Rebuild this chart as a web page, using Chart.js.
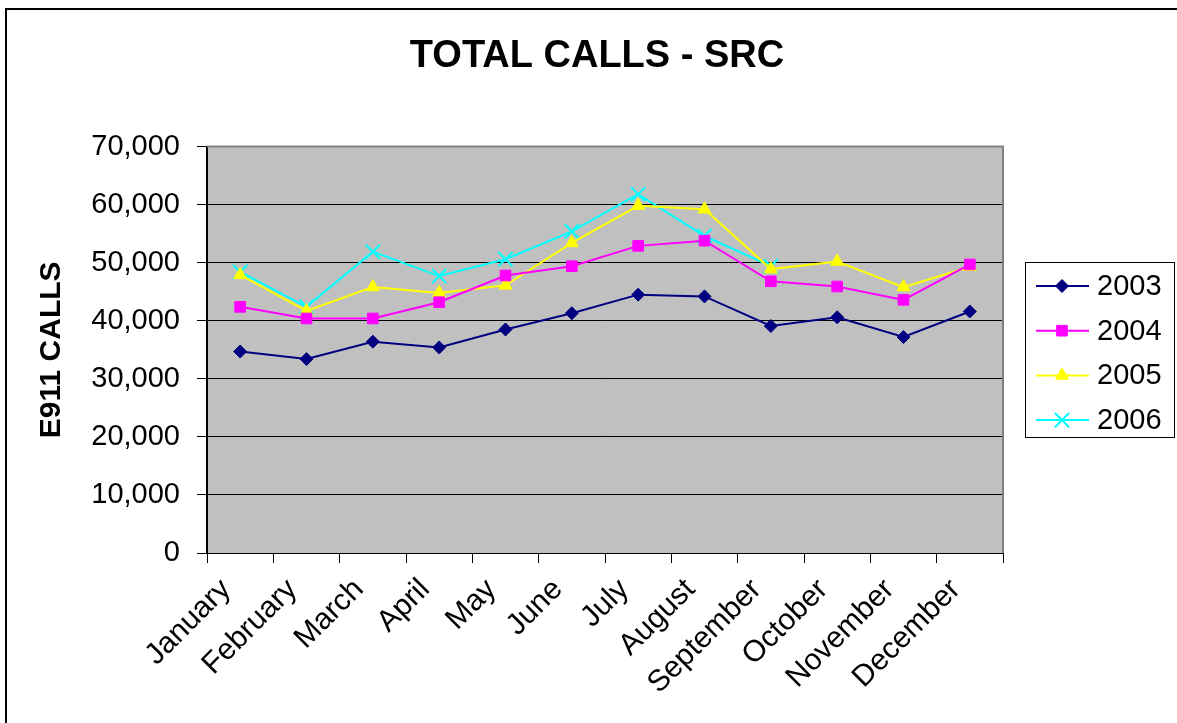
<!DOCTYPE html>
<html>
<head>
<meta charset="utf-8">
<title>TOTAL CALLS - SRC</title>
<script src="https://cdn.jsdelivr.net/npm/chart.js@4/dist/chart.umd.min.js"></script>
<style>
	html, body { margin: 0; padding: 0; background: #fff; }
	#wrap { width: 1177px; height: 723px; }
</style>
</head>
<body>
<div id="wrap"><canvas id="calls-chart" width="1177" height="723"></canvas></div>
<script>
	var months = [ 'January', 'February', 'March', 'April', 'May', 'June', 'July', 'August', 'September', 'October', 'November', 'December' ];
	var calls2003 = [ 34700, 33400, 36400, 35400, 38500, 41300, 44500, 44200, 39100, 40600, 37200, 41600 ];
	var calls2004 = [ 42400, 40400, 40400, 43200, 47800, 49400, 52900, 53800, 46800, 45900, 43600, 49700 ];
	var calls2005 = [ 47900, 41700, 45800, 44800, 46100, 53400, 59800, 59200, 48900, 50200, 45800, 49300 ];
	var calls2006 = [ 48400, 42400, 51900, 47700, 50600, 55400, 61800, 54600, 49400, null, null, null ];
	var yTicks = [ 0, 10000, 20000, 30000, 40000, 50000, 60000, 70000 ];

( function() {
	'use strict';

	var FONT = '"Liberation Sans", Arial, sans-serif';

	/**
	 * Gray plot background, outer frame and boxed legend.
	 */
	var plotDecor = {
		id: 'plotDecor',

		beforeDraw: function( chart ) {
			var ctx = chart.ctx;
			var area = chart.chartArea;
			ctx.save();
			ctx.fillStyle = '#c0c0c0';
			ctx.fillRect( area.left, area.top, area.right - area.left, area.bottom - area.top );

			// outer frame, only top and left edges fall inside the picture
			ctx.strokeStyle = '#000';
			ctx.lineWidth = 2;
			ctx.beginPath();
			ctx.moveTo( 6, 740 );
			ctx.lineTo( 6, 9 );
			ctx.lineTo( 1200, 9 );
			ctx.stroke();
			ctx.restore();
		},

		beforeDatasetsDraw: function( chart ) {
			var ctx = chart.ctx;
			var area = chart.chartArea;
			ctx.save();
			ctx.strokeStyle = '#808080';
			ctx.lineWidth = 2;
			ctx.beginPath();
			ctx.moveTo( area.left, area.top );
			ctx.lineTo( area.right, area.top );
			ctx.lineTo( area.right, area.bottom );
			ctx.stroke();
			ctx.restore();
		},

		afterDraw: function( chart ) {
			var ctx = chart.ctx;
			var box = { left: 1025.5, top: 262.5, width: 149, height: 175 };
			ctx.save();
			ctx.fillStyle = '#fff';
			ctx.fillRect( box.left, box.top, box.width, box.height );
			ctx.strokeStyle = '#000';
			ctx.lineWidth = 1;
			ctx.strokeRect( box.left, box.top, box.width, box.height );

			chart.data.datasets.forEach( function( ds, i ) {
				var y = 286 + i * 44.7;
				ctx.strokeStyle = ds.borderColor;
				ctx.lineWidth = 2;
				ctx.beginPath();
				ctx.moveTo( 1036, y );
				ctx.lineTo( 1089, y );
				ctx.stroke();

				ctx.fillStyle = ds.pointBackgroundColor;
				ctx.strokeStyle = ds.pointBorderColor;
				ctx.lineWidth = ds.pointBorderWidth;
				Chart.helpers.drawPoint( ctx, {
					pointStyle: ds.pointStyle,
					radius: ds.pointRadius,
					rotation: 0,
					borderWidth: ds.pointBorderWidth
				}, 1062, y );

				ctx.fillStyle = '#000';
				ctx.font = '29px ' + FONT;
				ctx.textAlign = 'left';
				ctx.textBaseline = 'middle';
				ctx.fillText( ds.label, 1097, y + 1 );
			} );
			ctx.restore();
		}
	};

	function series( label, data, color, style, radius ) {
		return {
			label: label,
			data: data,
			borderColor: color,
			backgroundColor: color,
			borderWidth: 2,
			pointStyle: style,
			pointRadius: radius,
			pointHoverRadius: radius,
			pointBackgroundColor: style === 'crossRot' ? 'rgba(0,0,0,0)' : color,
			pointBorderColor: color,
			pointBorderWidth: style === 'crossRot' ? 2 : 1,
			tension: 0,
			spanGaps: false,
			fill: false
		};
	}

	new Chart( document.getElementById( 'calls-chart' ), {
		type: 'line',
		data: {
			labels: months,
			datasets: [
				series( '2003', calls2003, '#000080', 'rectRot', 6.5 ),
				series( '2004', calls2004, '#ff00ff', 'rect', 7.5 ),
				series( '2005', calls2005, '#ffff00', 'triangle', 7.5 ),
				series( '2006', calls2006, '#00ffff', 'crossRot', 10 )
			]
		},
		options: {
			responsive: false,
			animation: false,
			events: [],
			layout: {
				padding: { left: 17, right: 0, top: 0, bottom: 0 }
			},
			plugins: {
				legend: { display: false },
				tooltip: { enabled: false },
				title: {
					display: true,
					text: 'TOTAL CALLS - SRC',
					color: '#000',
					font: { family: FONT, size: 38, weight: 'bold' },
					padding: { top: 34, bottom: 67 }
				}
			},
			scales: {
				x: {
					offset: true,
					afterFit: function( scale ) {
						scale.height = 170;
					},
					border: { display: true, color: '#000', width: 1 },
					grid: {
						offset: true,
						drawOnChartArea: false,
						drawTicks: true,
						tickLength: 10,
						color: '#000'
					},
					ticks: {
						color: '#000',
						autoSkip: false,
						minRotation: 45,
						maxRotation: 45,
						padding: 9,
						labelOffset: -14,
						font: { family: FONT, size: 30 }
					}
				},
				y: {
					min: 0,
					max: 70000,
					afterFit: function( scale ) {
						scale.width = 190;
					},
					afterBuildTicks: function( scale ) {
						scale.ticks = yTicks.map( function( v ) {
							return { value: v };
						} );
					},
					border: { display: true, color: '#000', width: 2 },
					grid: {
						color: function( c ) {
							return c.tick && c.tick.value === 70000 ? '#808080' : '#000';
						},
						tickColor: '#000',
						lineWidth: 1,
						tickLength: 10
					},
					ticks: {
						color: '#000',
						padding: 17,
						font: { family: FONT, size: 29 },
						callback: function( v ) {
							return Number( v ).toLocaleString( 'en-US' );
						}
					},
					title: {
						display: true,
						text: 'E911 CALLS',
						color: '#000',
						padding: { top: 17, bottom: 0 },
						font: { family: FONT, size: 30, weight: 'bold' }
					}
				},
				spacer: {
					position: 'right',
					display: true,
					afterFit: function( scale ) {
						scale.width = 174;
					},
					border: { display: false },
					grid: { display: false },
					ticks: { display: false }
				}
			}
		},
		plugins: [ plotDecor ]
	} );
} )();
</script>
</body>
</html>
